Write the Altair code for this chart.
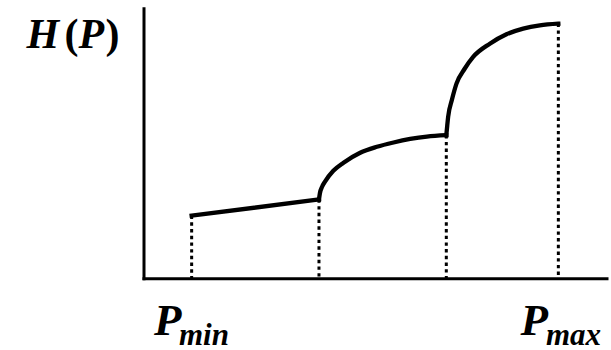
import altair as alt
import pandas as pd

# Piecewise curve H(P): a linear piece followed by two concave pieces
seg1_p = [1.04, 3.79]
seg1_h = [2.32, 2.92]

seg2_p = [3.79, 3.81, 3.86, 3.92, 4.10, 4.32, 4.68, 5.04, 5.40, 5.76, 6.12, 6.54]
seg2_h = [2.92, 3.15, 3.40, 3.58, 3.98, 4.28, 4.65, 4.87, 5.03, 5.16, 5.25, 5.30]

seg3_p = [6.54, 6.56, 6.58, 6.66, 6.76, 6.94, 7.12, 7.48, 7.84, 8.20, 8.56, 8.96]
seg3_h = [5.30, 5.65, 5.98, 6.60, 7.21, 7.77, 8.20, 8.69, 9.04, 9.25, 9.37, 9.43]

# Breakpoints marked with dotted drop lines
break_p = [1.04, 3.79, 6.54, 8.96]
break_h = [2.32, 2.92, 5.30, 9.43]

curve = pd.DataFrame({
    "P": seg1_p + seg2_p + seg3_p,
    "H": seg1_h + seg2_h + seg3_h,
    "seg": ["a"] * len(seg1_p) + ["b"] * len(seg2_p) + ["c"] * len(seg3_p),
})
curve["order"] = range(len(curve))
breaks = pd.DataFrame({"P": break_p, "H": break_h})

W, H = 463, 270
FONT = "Liberation Serif"

xs = alt.Scale(domain=[0, 10], nice=False, zero=False)
ys = alt.Scale(domain=[0, 10], nice=False, zero=False)
ax = dict(domainColor="black", domainWidth=3, domainCap="square",
          ticks=False, labels=False, grid=False, title=None)

drops = alt.Chart(breaks).mark_rule(
    color="black", strokeWidth=3, strokeDash=[3.4, 3.3]
).encode(
    x=alt.X("P:Q", scale=xs, axis=alt.Axis(**ax)),
    y=alt.Y("H:Q", scale=ys, axis=alt.Axis(**ax)),
    y2=alt.datum(0),
)

line = alt.Chart(curve).mark_line(
    color="black", strokeWidth=4.3, interpolate="monotone", strokeCap="square"
).encode(
    x=alt.X("P:Q", scale=xs),
    y=alt.Y("H:Q", scale=ys),
    detail="seg:N",
    order="order:Q",
)

def label(text, x, y, size, style="italic"):
    return alt.Chart(pd.DataFrame({"t": [text]})).mark_text(
        font=FONT, fontStyle=style, fontWeight="bold", fontSize=size,
        align="left", baseline="alphabetic", color="black",
    ).encode(x=alt.value(x), y=alt.value(y), text="t:N")

labels = [
    # y-axis title: italic letters, upright parentheses
    label("H", -117, 40, 42),
    label("(", -79, 40, 42, "normal"),
    label("P", -65, 40, 42),
    label(")", -38, 40, 42, "normal"),
    # x-axis end labels with subscripts
    label("P", 10.5, 326.7, 45),
    label("min", 35.5, 337, 31),
    label("P", 377, 326.7, 45),
    label("max", 402.5, 337, 31),
]

chart = alt.layer(drops, line, *labels).properties(
    width=W, height=H,
    autosize=alt.AutoSizeParams(type="none"),
    padding={"left": 143.5, "top": 8.3, "right": 4.5, "bottom": 71.7},
    background="white",
).configure_view(stroke=None)

chart.save("out.html", embed_options={"renderer": "svg", "actions": False})
